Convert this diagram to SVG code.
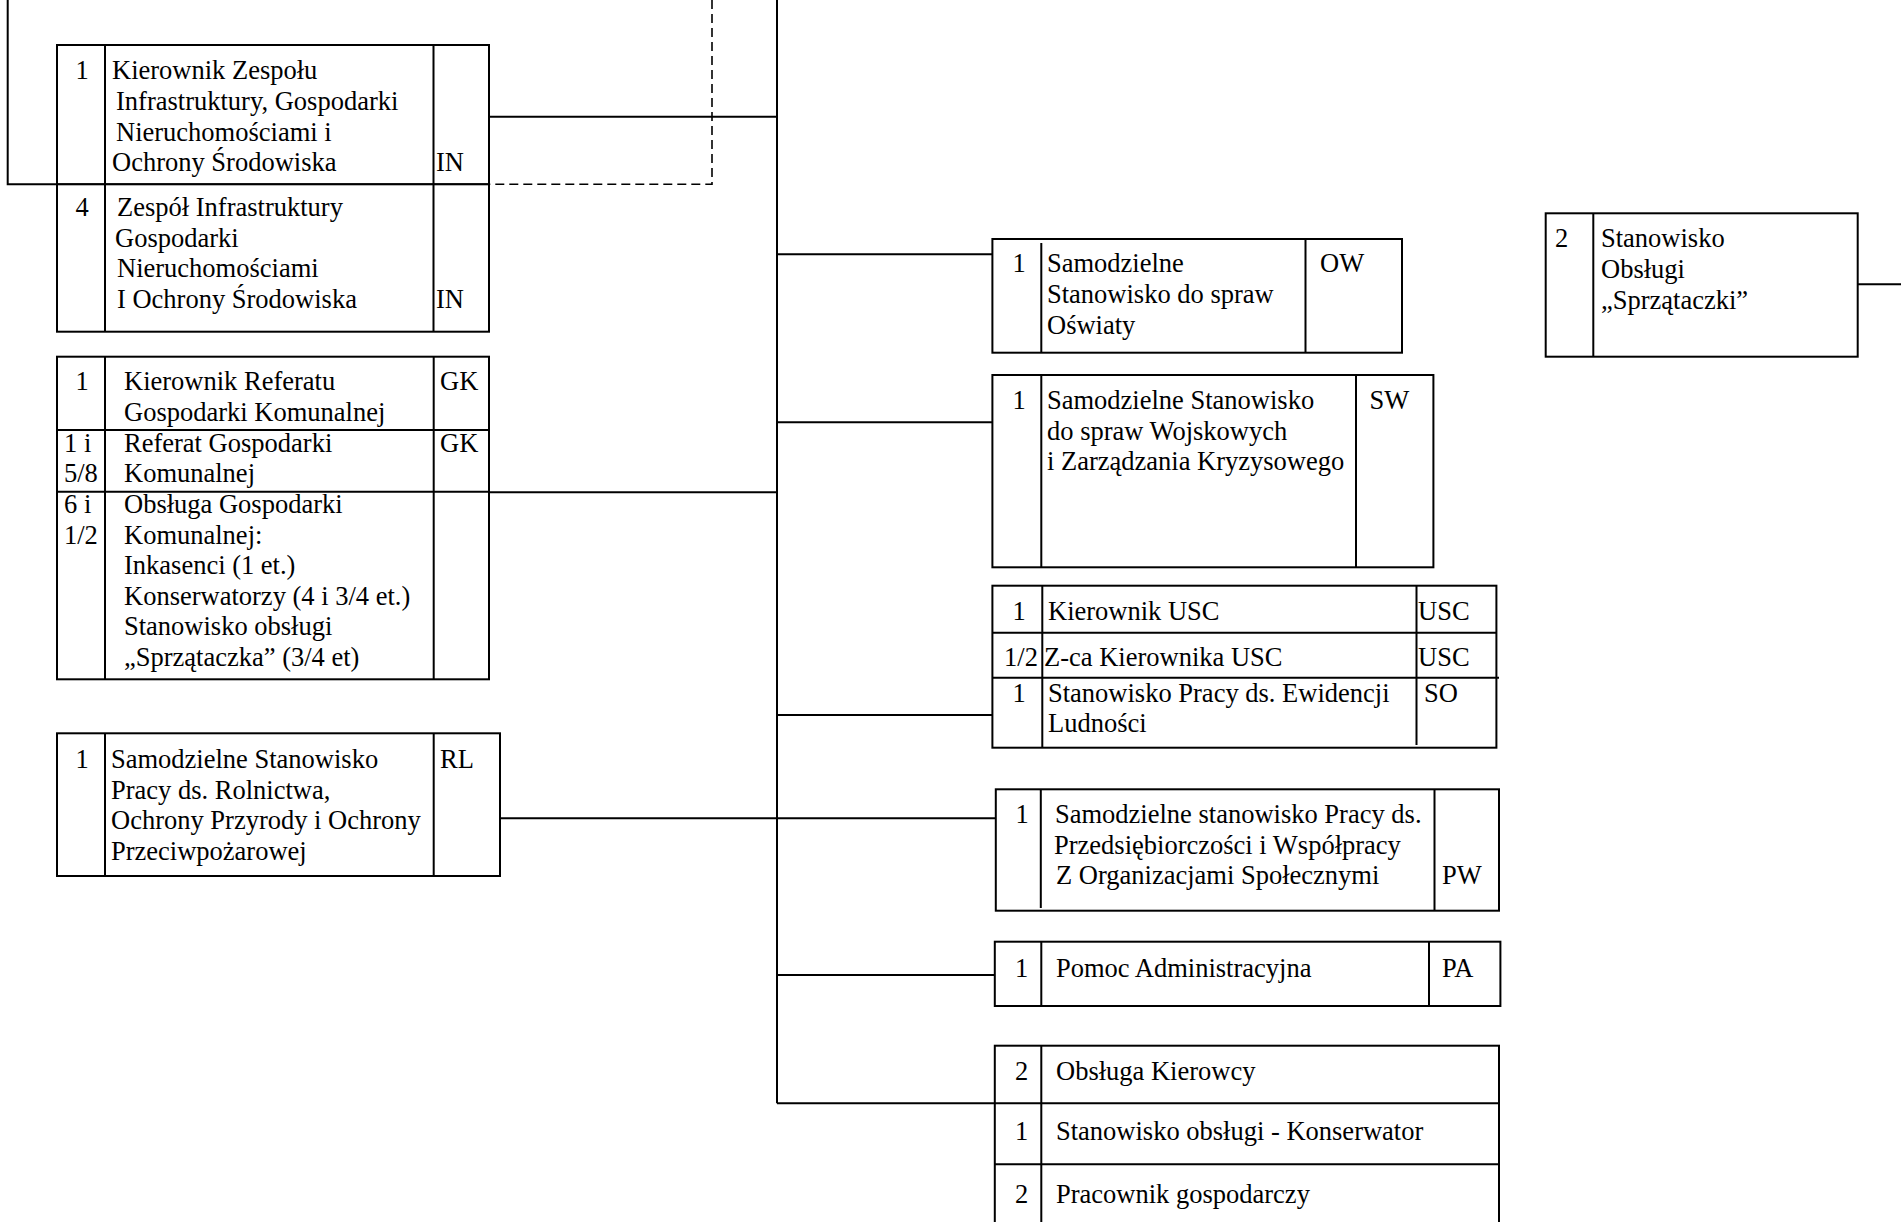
<svg xmlns="http://www.w3.org/2000/svg" width="1901" height="1222" viewBox="0 0 1901 1222">
<style>
  .bx { fill: #fff; stroke: #000; stroke-width: 2; }
  .ln { fill: none; stroke: #000; stroke-width: 2; }
  .ds { fill: none; stroke: #000; stroke-width: 1.6; stroke-dasharray: 9 5; }
  text { font-family: "Liberation Serif", "Times New Roman", serif; font-size: 26.5px; fill: #000; }
  .c { text-anchor: middle; }
</style>
<rect width="1901" height="1222" fill="#fff"/>

<g id="connectors">
  <path class="ln" d="M7.7,0 V184.3 H57"/>
  <path class="ds" d="M712,0 V184.3 H489"/>
  <path class="ln" d="M777,0 V1103.3"/>
  <path class="ln" d="M489,116.7 H777"/>
  <path class="ln" d="M777,254.3 H992.4"/>
  <path class="ln" d="M777,422.3 H992.4"/>
  <path class="ln" d="M489,492.3 H777"/>
  <path class="ln" d="M777,715 H992.4"/>
  <path class="ln" d="M500,818.3 H995.8"/>
  <path class="ln" d="M777,975 H994.8"/>
  <path class="ln" d="M777,1103.3 H994.8"/>
  <path class="ln" d="M1857.7,284.3 H1901"/>
</g>

<g id="node-kierownik-zespolu-in">
  <rect class="bx" x="57" y="45" width="432" height="139.3"/>
  <path class="ln" d="M105,45 V184.3 M433.5,45 V184.3"/>
  <text class="c" x="82" y="79">1</text>
  <text x="112" y="79">Kierownik Zespołu</text>
  <text x="116" y="110">Infrastruktury, Gospodarki</text>
  <text x="116" y="140.5">Nieruchomościami i</text>
  <text x="112" y="170.5">Ochrony Środowiska</text>
  <text x="436" y="170.5">IN</text>
</g>

<g id="node-zespol-in">
  <rect class="bx" x="57" y="184.3" width="432" height="147.4"/>
  <path class="ln" d="M105,184.3 V331.7 M433.5,184.3 V331.7"/>
  <text class="c" x="82" y="216">4</text>
  <text x="117" y="216">Zespół Infrastruktury</text>
  <text x="115" y="246.5">Gospodarki</text>
  <text x="117" y="277">Nieruchomościami</text>
  <text x="117" y="307.5">I Ochrony Środowiska</text>
  <text x="436" y="307.5">IN</text>
</g>

<g id="node-referat-gk">
  <rect class="bx" x="57" y="356.7" width="432" height="322.6"/>
  <path class="ln" d="M57,430 H489 M57,491.7 H489 M105,356.7 V679.3 M433.7,356.7 V679.3"/>
  <text class="c" x="82" y="390">1</text>
  <text x="124" y="390">Kierownik Referatu</text>
  <text x="124" y="420.5">Gospodarki Komunalnej</text>
  <text x="440" y="390">GK</text>
  <text x="64" y="451.5">1 i</text>
  <text x="64" y="482">5/8</text>
  <text x="124" y="451.5">Referat Gospodarki</text>
  <text x="124" y="482">Komunalnej</text>
  <text x="440" y="451.5">GK</text>
  <text x="64" y="513">6 i</text>
  <text x="64" y="543.5">1/2</text>
  <text x="124" y="513">Obsługa Gospodarki</text>
  <text x="124" y="543.5">Komunalnej:</text>
  <text x="124" y="574">Inkasenci (1 et.)</text>
  <text x="124" y="604.5">Konserwatorzy (4 i 3/4 et.)</text>
  <text x="124" y="635">Stanowisko obsługi</text>
  <text x="124" y="665.5">„Sprzątaczka” (3/4 et)</text>
</g>

<g id="node-rl">
  <rect class="bx" x="57" y="733.3" width="443" height="142.7"/>
  <path class="ln" d="M105,733.3 V876 M433.7,733.3 V876"/>
  <text class="c" x="82" y="768">1</text>
  <text x="111" y="768">Samodzielne Stanowisko</text>
  <text x="111" y="798.5">Pracy ds. Rolnictwa,</text>
  <text x="111" y="829">Ochrony Przyrody i Ochrony</text>
  <text x="111" y="859.5">Przeciwpożarowej</text>
  <text x="440" y="768">RL</text>
</g>

<g id="node-ow">
  <rect class="bx" x="992.4" y="239" width="409.6" height="113.7"/>
  <path class="ln" d="M1041.3,243 V352.7 M1305.5,239 V352.7"/>
  <text class="c" x="1019" y="272">1</text>
  <text x="1047" y="272">Samodzielne</text>
  <text x="1047" y="303">Stanowisko do spraw</text>
  <text x="1047" y="333.5">Oświaty</text>
  <text x="1320" y="272">OW</text>
</g>

<g id="node-sw">
  <rect class="bx" x="992.4" y="375" width="441" height="192.3"/>
  <path class="ln" d="M1041.3,375 V567.3 M1356,375 V567.3"/>
  <text class="c" x="1019" y="408.5">1</text>
  <text x="1047" y="408.5">Samodzielne Stanowisko</text>
  <text x="1047" y="439.5">do spraw Wojskowych</text>
  <text x="1047" y="470">i Zarządzania Kryzysowego</text>
  <text x="1369.5" y="408.5">SW</text>
</g>

<g id="node-usc">
  <rect class="bx" x="992.4" y="585.7" width="504" height="162"/>
  <path class="ln" d="M992.4,632.7 H1496.4 M992.4,677.7 H1499 M1042.3,585.7 V747.7 M1416.5,585.7 V745"/>
  <text class="c" x="1019" y="620">1</text>
  <text x="1048" y="620">Kierownik USC</text>
  <text x="1418" y="620">USC</text>
  <text class="c" x="1021" y="666">1/2</text>
  <text x="1044" y="666">Z-ca Kierownika USC</text>
  <text x="1418" y="666">USC</text>
  <text class="c" x="1019" y="701.5">1</text>
  <text x="1048" y="701.5">Stanowisko Pracy ds. Ewidencji</text>
  <text x="1048" y="732">Ludności</text>
  <text x="1424" y="701.5">SO</text>
</g>

<g id="node-pw">
  <rect class="bx" x="995.8" y="789.3" width="503.2" height="121.4"/>
  <path class="ln" d="M1040.8,789.3 V908 M1434.5,789.3 V910.7"/>
  <text class="c" x="1022" y="823">1</text>
  <text x="1055" y="823">Samodzielne stanowisko Pracy ds.</text>
  <text x="1054" y="853.5">Przedsiębiorczości i Współpracy</text>
  <text x="1056" y="884">Z Organizacjami Społecznymi</text>
  <text x="1442" y="884">PW</text>
</g>

<g id="node-pa">
  <rect class="bx" x="994.8" y="941.7" width="505.6" height="64.3"/>
  <path class="ln" d="M1041.3,941.7 V1006 M1429,941.7 V1006"/>
  <text class="c" x="1021.5" y="977">1</text>
  <text x="1056" y="977">Pomoc Administracyjna</text>
  <text x="1442" y="977">PA</text>
</g>

<g id="node-obsluga">
  <rect class="bx" x="994.8" y="1045.7" width="504.2" height="200"/>
  <path class="ln" d="M994.8,1103.3 H1499 M994.8,1164.3 H1499 M1041.3,1045.7 V1245.7"/>
  <text class="c" x="1021.5" y="1080">2</text>
  <text x="1056" y="1080">Obsługa Kierowcy</text>
  <text class="c" x="1021.5" y="1140">1</text>
  <text x="1056" y="1140">Stanowisko obsługi - Konserwator</text>
  <text class="c" x="1021.5" y="1203">2</text>
  <text x="1056" y="1203">Pracownik gospodarczy</text>
</g>

<g id="node-sprzataczki">
  <rect class="bx" x="1545.7" y="213.3" width="312" height="143.4"/>
  <path class="ln" d="M1593.3,213.3 V356.7"/>
  <text x="1555" y="247">2</text>
  <text x="1601" y="247">Stanowisko</text>
  <text x="1601" y="277.5">Obsługi</text>
  <text x="1601" y="308.5">„Sprzątaczki”</text>
</g>
</svg>
